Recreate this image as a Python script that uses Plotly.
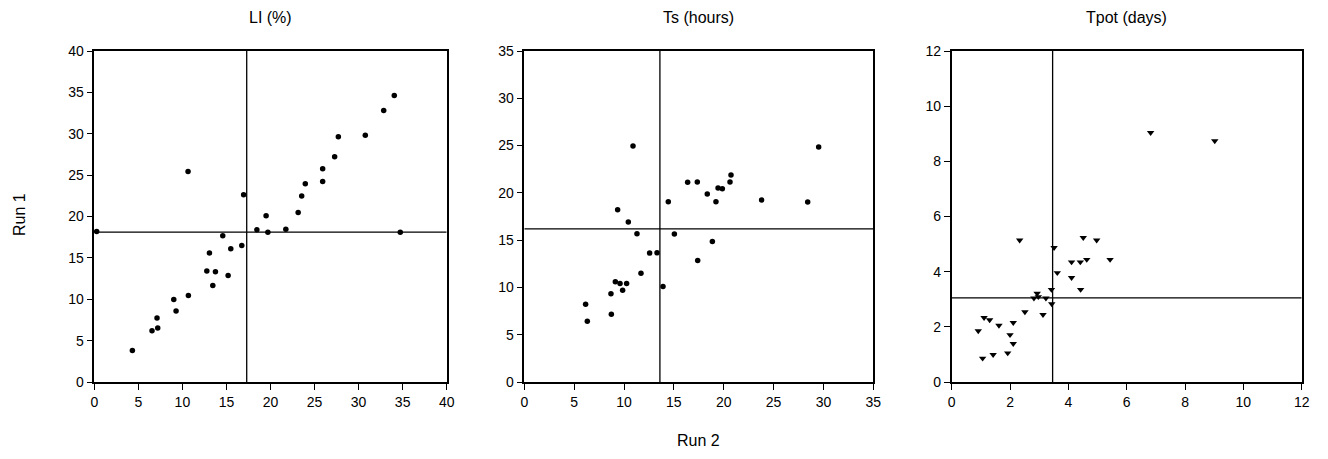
import plotly.graph_objects as go

# Panel 1: LI (%)
li_run2 = [0.27, 4.32, 6.55, 7.2, 7.12, 9.02, 9.28, 10.68, 12.77, 13.07, 13.75, 13.45, 14.58, 15.19,
           15.49, 16.74, 18.45, 19.5, 19.7, 21.74, 23.14, 34.73, 10.64, 16.95, 23.54, 23.95, 25.92,
           25.92, 27.28, 27.7, 30.76, 32.85, 34.05]
li_run1 = [18.2, 3.82, 6.2, 6.52, 7.73, 9.98, 8.57, 10.46, 13.4, 15.6, 13.32, 11.67, 17.67, 12.88,
           16.1, 16.5, 18.39, 20.08, 18.1, 18.47, 20.48, 18.1, 25.45, 22.63, 22.47, 23.96, 25.77,
           24.24, 27.22, 29.64, 29.83, 32.81, 34.63]
li_cut_run2 = 17.3
li_cut_run1 = 18.1

# Panel 2: Ts (hours)
ts_run2 = [6.15, 6.32, 8.69, 8.73, 9.13, 9.6, 9.86, 10.26, 9.36, 10.43, 11.3, 11.7, 12.57, 13.31,
           13.91, 15.05, 17.39, 18.86, 10.9, 14.44, 16.38, 17.35, 18.35, 19.22, 19.43, 19.86,
           20.63, 20.73, 23.8, 28.42, 29.52]
ts_run1 = [8.22, 6.42, 9.32, 7.17, 10.59, 10.41, 9.71, 10.41, 18.21, 16.91, 15.67, 11.51, 13.63, 13.66,
           10.1, 15.64, 12.85, 14.86, 24.96, 19.06, 21.11, 21.15, 19.88, 19.06, 20.51, 20.44,
           21.15, 21.89, 19.24, 19.03, 24.85]
ts_cut_run2 = 13.6
ts_cut_run1 = 16.2

# Panel 3: Tpot (days)
tp_run2 = [0.91, 1.06, 1.11, 1.3, 1.42, 1.62, 1.92, 2.0, 2.11, 2.11, 2.33, 2.51, 2.82, 2.93, 2.97,
           3.13, 3.23, 3.42, 3.43, 3.51, 3.62, 4.11, 4.11, 4.41, 4.42, 4.51, 4.63, 4.97, 5.43,
           6.82, 9.02]
tp_run1 = [1.85, 0.86, 2.33, 2.25, 0.99, 2.05, 1.05, 1.71, 2.15, 1.39, 5.14, 2.54, 3.04, 3.21, 3.09,
           2.44, 3.04, 3.35, 2.83, 4.87, 3.96, 4.35, 3.78, 4.35, 3.35, 5.23, 4.44, 5.14, 4.44,
           9.04, 8.74]
tp_cut_run2 = 3.46
tp_cut_run1 = 3.05

titles = ["LI (%)", "Ts (hours)", "Tpot (days)"]
ranges = [40, 35, 12]
dticks = [5, 5, 2]

W, H = 1328, 459
OFF = 8  # page body margin offset
def px(v):
    return (v - OFF) / W
def py(v):
    return 1 - (v - OFF) / H

x_doms = [(px(94.3), px(446.7)), (px(524.3), px(873.3)), (px(951.7), px(1301.7))]
y_dom = (py(382), py(51))

font = "Liberation Sans, Arial, sans-serif"
fig = go.Figure()

panels = [
    (li_run2, li_run1, li_cut_run2, li_cut_run1, "circle", 5.5),
    (ts_run2, ts_run1, ts_cut_run2, ts_cut_run1, "circle", 5.5),
    (tp_run2, tp_run1, tp_cut_run2, tp_cut_run1, "triangle-down", 6.5),
]

for i, (xs, ys, cx, cy, sym, sz) in enumerate(panels):
    n = "" if i == 0 else str(i + 1)
    fig.add_trace(go.Scatter(x=xs, y=ys, mode="markers", xaxis="x" + n, yaxis="y" + n,
                             marker=dict(symbol=sym, size=sz, color="black"),
                             showlegend=False, cliponaxis=False))
    axis_common = dict(range=[0, ranges[i]], dtick=dticks[i], tick0=0, showgrid=False,
                       zeroline=False, showline=True, linecolor="black", linewidth=1.5,
                       mirror=True, ticks="outside", ticklen=6, tickwidth=1.2, automargin=False,
                       tickcolor="black", tickfont=dict(family=font, size=14, color="black"))
    fig.update_layout(**{
        "xaxis" + n: dict(domain=x_doms[i], anchor="y" + n, **axis_common),
        "yaxis" + n: dict(domain=y_dom, anchor="x" + n, **axis_common),
    })
    fig.add_shape(type="line", xref="x" + n, yref="y" + n, x0=cx, x1=cx, y0=0, y1=ranges[i],
                  line=dict(color="black", width=1.3))
    fig.add_shape(type="line", xref="x" + n, yref="y" + n, x0=0, x1=ranges[i], y0=cy, y1=cy,
                  line=dict(color="black", width=1.3))
    fig.add_annotation(text=titles[i], xref="paper", yref="paper",
                       x=(x_doms[i][0] + x_doms[i][1]) / 2, y=py(17),
                       showarrow=False, font=dict(family=font, size=16, color="black"),
                       xanchor="center", yanchor="middle")

fig.add_annotation(text="Run 1", xref="paper", yref="paper", x=px(20), y=py(215),
                   textangle=-90, showarrow=False, font=dict(family=font, size=16, color="black"),
                   xanchor="center", yanchor="middle")
fig.add_annotation(text="Run 2", xref="paper", yref="paper", x=px(698), y=py(440),
                   showarrow=False, font=dict(family=font, size=16, color="black"),
                   xanchor="center", yanchor="middle")

fig.update_layout(width=W, height=H, margin=dict(l=0, r=0, t=0, b=0, autoexpand=False),
                  paper_bgcolor="white", plot_bgcolor="white")
fig.write_html("out.html")
